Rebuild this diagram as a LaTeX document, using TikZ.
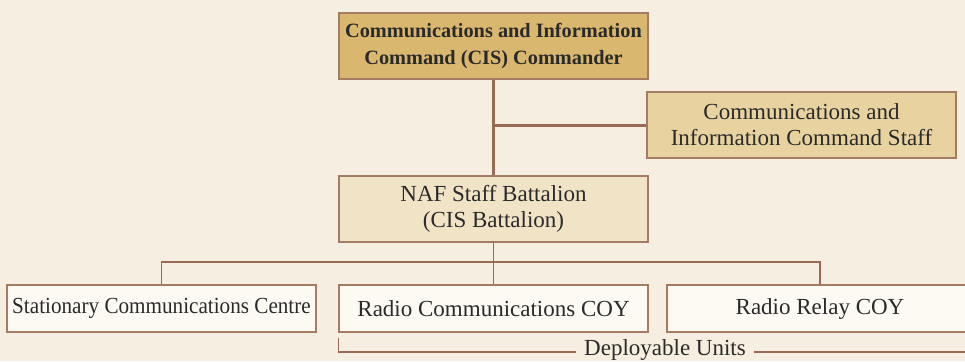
\documentclass[tikz,border=0pt]{standalone}
\usepackage{fontspec}
\setmainfont{Liberation Serif}
\newfontfamily\narrowserif[FakeStretch=0.92]{Liberation Serif}
\usetikzlibrary{calc}
\definecolor{bg}{HTML}{F6EEE0}
\definecolor{topfill}{HTML}{D9B76E}
\definecolor{stafffill}{HTML}{E8D3A0}
\definecolor{naffill}{HTML}{F1E3C6}
\definecolor{unitfill}{HTML}{FDFAF4}
\definecolor{edge}{HTML}{A47C64}
\definecolor{link}{HTML}{9A6A55}
\definecolor{ink}{HTML}{2A2A2A}
\tikzset{
  box/.style={draw=edge, line width=1.3pt, rectangle, align=center, inner sep=0pt, text=ink,
    font=\fontsize{23}{26}\selectfont},
  bigbox/.style={box, minimum width=309pt, minimum height=66pt},
  unitbox/.style={box, fill=unitfill, minimum height=47pt},
  thick link/.style={draw=link, line width=3pt},
  thin link/.style={draw=link, line width=1.4pt},
}
\begin{document}
\begin{tikzpicture}[x=1pt,y=-1pt]
\fill[bg] (0,0) rectangle (965,361);
\useasboundingbox (0,0) rectangle (965,361);
\begin{scope}
\clip (0,0) rectangle (965,361);
\node[bigbox, fill=topfill, font=\bfseries\fontsize{20.3}{27}\selectfont] (top) at (493.5,46)
  {Communications and Information\\Command (CIS) Commander};
\node[bigbox, fill=stafffill] (staff) at (801.5,125)
  {Communications and\\Information Command Staff};
\node[bigbox, fill=naffill] (naf) at (493.5,209)
  {NAF Staff Battalion\\(CIS Battalion)};
\node[unitbox, minimum width=309pt, font=\narrowserif\fontsize{23}{26}\selectfont] (b1) at (161.5,308.5) {Stationary Communications Centre};
\node[unitbox, minimum width=309pt] (b2) at (493.5,308.5) {Radio Communications COY};
\node[unitbox, minimum width=306pt] (b3) at (820,308.5) {Radio Relay COY};

\draw[thick link] (top.south) -- (naf.north);
\draw[thick link] (staff.west) -- (top.south |- staff.west);

\coordinate (bus) at (493.5,262);
\draw[thin link] (naf.south) -- (bus);
\draw[thin link] (b1.north) -- (b1.north |- bus) -- (b3.north |- bus) -- (b3.north);
\draw[thin link] (bus) -- (b2.north);

\node[text=ink, font=\fontsize{23}{26}\selectfont, inner sep=0pt] (dep) at (665,350) {Deployable Units};
\coordinate (depstart) at ($(b2.south west)+(0,5)$);
\coordinate (depend) at (975,352);
\draw[thin link] (depstart) -- (depstart |- depend) -- ($(dep.west |- depend)+(-8,0)$);
\draw[thin link] ($(dep.east |- depend)+(8,0)$) -- (depend);
\end{scope}
\end{tikzpicture}
\end{document}
